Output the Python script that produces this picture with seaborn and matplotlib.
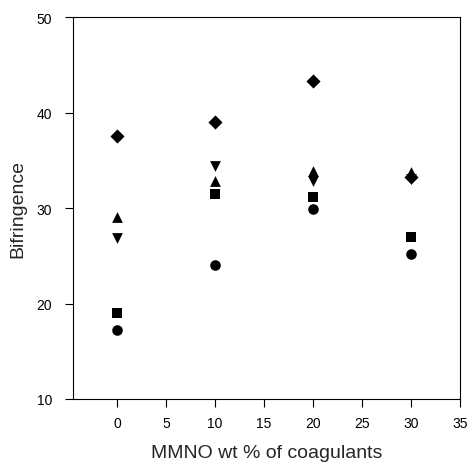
import matplotlib
matplotlib.use("Agg")
import matplotlib.pyplot as plt
import seaborn as sns
import pandas as pd

coagulant = [0, 10, 20, 30]
series_diamond = [37.5, 39.0, 43.3, 33.3]
series_up = [29.1, 32.8, 33.9, 33.8]
series_down = [26.9, 34.4, 32.8, 33.0]
series_square = [19.0, 31.5, 31.2, 27.0]
series_circle = [17.2, 24.0, 29.9, 25.2]

x_ticks = [0, 5, 10, 15, 20, 25, 30, 35]
y_ticks = [10, 20, 30, 40, 50]

rows = []
for name, vals in [("D", series_diamond), ("up", series_up), ("down", series_down),
                   ("sq", series_square), ("circ", series_circle)]:
    for x, v in zip(coagulant, vals):
        rows.append({"x": x, "y": v, "series": name})
df = pd.DataFrame(rows)

sns.set_style("ticks")
plt.rcParams['font.family'] = ['Liberation Sans', 'DejaVu Sans']

fig = plt.figure(figsize=(4.71, 4.64), dpi=100)
ax = fig.add_axes([0.155, 0.138, 0.822, 0.823])

markers = {"D": "D", "up": "^", "down": "v", "sq": "s", "circ": "o"}
sizes_map = {"D": 52, "up": 60, "down": 60, "sq": 45, "circ": 58}
for name, sub in df.groupby("series", sort=False):
    sns.scatterplot(data=sub, x="x", y="y", marker=markers[name], color="black",
                    s=sizes_map[name], linewidth=0, ax=ax, legend=False)

ax.set_xlim(-4.5, 35)
ax.set_ylim(10, 50)
ax.set_xticks(x_ticks)
ax.set_yticks(y_ticks)
for sp in ax.spines.values():
    sp.set_visible(True)
    sp.set_linewidth(0.8)
    sp.set_color("black")
ax.tick_params(axis="both", direction="out", length=6, width=0.8, labelsize=10, colors="black")
ax.tick_params(axis="x", pad=6)
ax.tick_params(axis="y", pad=9)
ax.set_xlabel("MMNO wt % of coagulants", fontsize=14, labelpad=10)
ax.set_ylabel("Bifringence", fontsize=14, labelpad=7)

fig.savefig("out.png", dpi=100)
